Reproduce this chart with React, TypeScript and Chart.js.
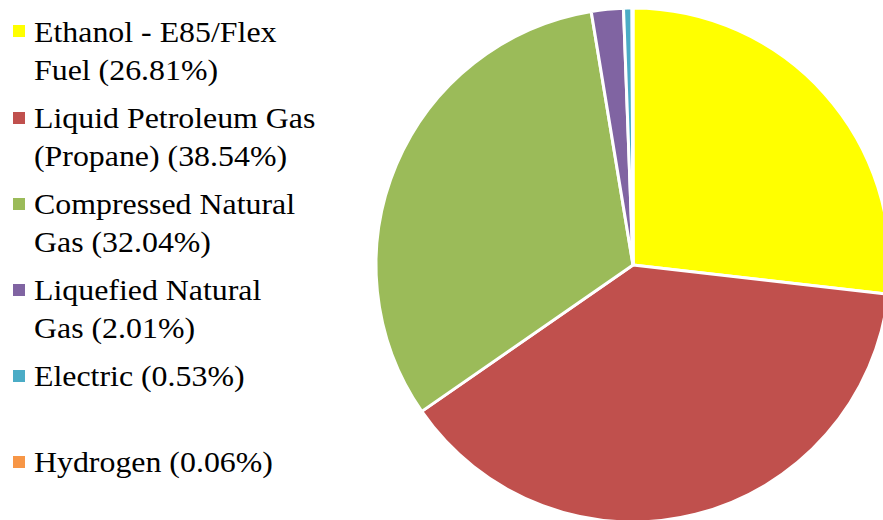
import React, { useEffect, useRef } from "react";
import { Chart, registerables } from "chart.js";

Chart.register(...registerables);

// Category names, split where the legend wraps them
const categories: string[][] = [
  ["Ethanol - E85/Flex", "Fuel"],
  ["Liquid Petroleum Gas", "(Propane)"],
  ["Compressed Natural", "Gas"],
  ["Liquefied Natural", "Gas"],
  ["Electric"],
  ["Hydrogen"],
];
const shares: number[] = [26.81, 38.54, 32.04, 2.01, 0.53, 0.06];
const colors: string[] = ["#FFFF00", "#C0504D", "#9BBB59", "#8064A2", "#4BACC6", "#F79646"];

export default function App() {
  const canvasRef = useRef<HTMLCanvasElement | null>(null);

  useEffect(() => {
    if (!canvasRef.current) return;
    const chart = new Chart(canvasRef.current, {
      type: "pie",
      data: {
        labels: categories.map((c) => c.join(" ")),
        datasets: [
          {
            data: shares,
            backgroundColor: colors,
            borderColor: "#FFFFFF",
            borderWidth: 3,
            hoverOffset: 0,
          },
        ],
      },
      options: {
        animation: false,
        responsive: false,
        maintainAspectRatio: false,
        layout: { padding: 6.5 },
        plugins: {
          legend: { display: false },
          tooltip: { enabled: false },
        },
      },
    });
    return () => chart.destroy();
  }, []);

  const lineHeight = 38;
  const slot = 86.1;
  const firstTop = 12.8;

  return (
    <div
      style={{
        position: "fixed",
        left: 0,
        top: 0,
        width: 883,
        height: 520,
        overflow: "hidden",
        background: "#FFFFFF",
      }}
    >
      <canvas
        ref={canvasRef}
        width={530}
        height={530}
        style={{ position: "absolute", left: 368, top: 0, width: 530, height: 530 }}
      />
      {categories.map((lines, i) => {
        const top = firstTop + slot * i;
        const baseline = top + 28.9;
        const label = lines.slice();
        label[label.length - 1] = label[label.length - 1] + " (" + shares[i].toFixed(2) + "%)";
        return (
          <React.Fragment key={i}>
            <div
              style={{
                position: "absolute",
                left: 13,
                top: baseline - 16.3,
                width: 12,
                height: 12,
                background: colors[i],
              }}
            />
            <div
              style={{
                position: "absolute",
                left: 34,
                top: top,
                fontFamily: "'Liberation Serif', 'Times New Roman', serif",
                fontSize: "29.5px",
                lineHeight: lineHeight + "px",
                color: "#000000",
                whiteSpace: "nowrap",
                transform: "scaleX(1.08)",
                transformOrigin: "0 0",
              }}
            >
              {label.map((l, j) => (
                <div key={j}>{l}</div>
              ))}
            </div>
          </React.Fragment>
        );
      })}
    </div>
  );
}
